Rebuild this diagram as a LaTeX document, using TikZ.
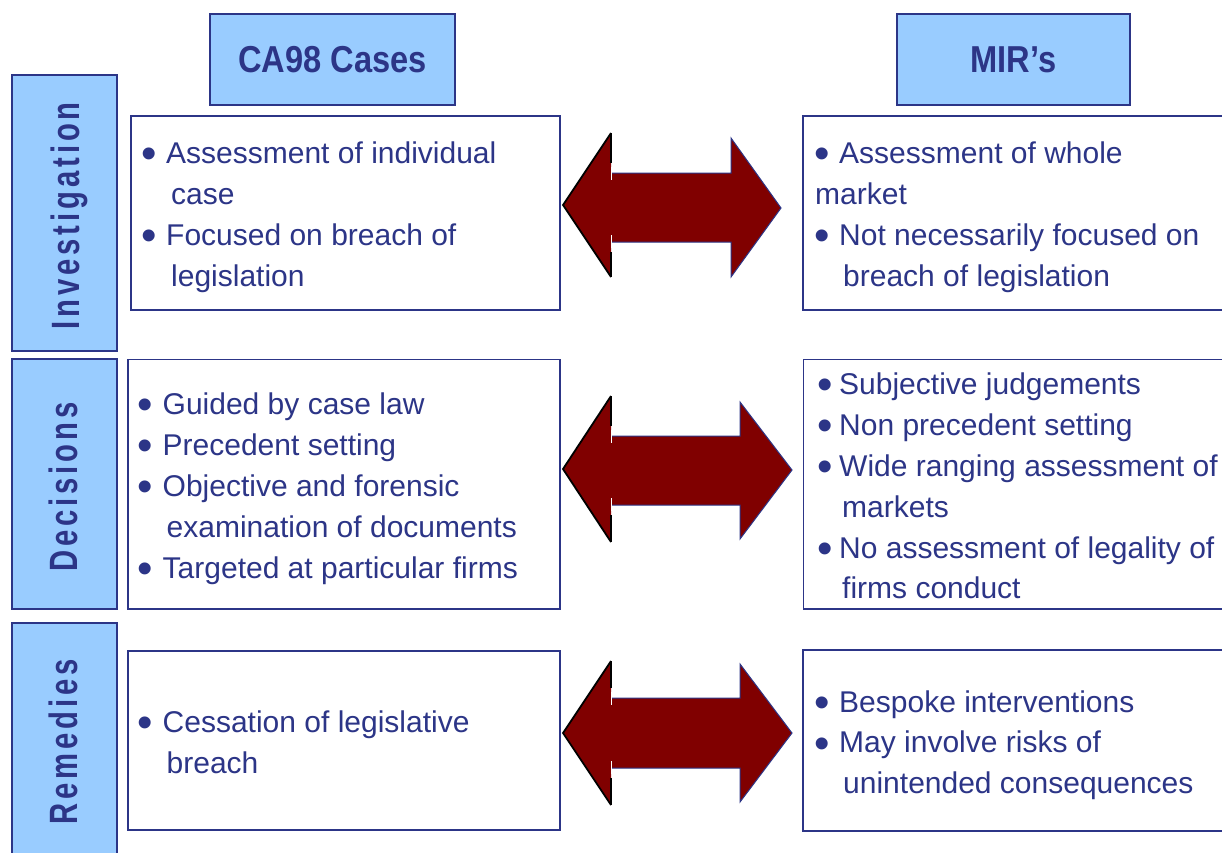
\documentclass[tikz,border=0pt]{standalone}
\usepackage{fontspec}
\setmainfont{Liberation Sans}
\newfontfamily\headfont[FakeStretch=0.87]{Liberation Sans}
\newfontfamily\sidefont[FakeStretch=0.74,LetterSpace=10]{Liberation Sans}
\definecolor{navy}{HTML}{2C3587}
\definecolor{lblue}{HTML}{99CCFF}
\definecolor{dred}{HTML}{800000}
\tikzset{
  hdrbox/.style={draw=navy, line width=1.5pt, fill=lblue, inner sep=0pt, text=navy,
    font=\headfont\bfseries\fontsize{37.5}{40}\selectfont},
  sidebox/.style={draw=navy, line width=1.8pt, fill=lblue, inner sep=0pt},
  sidelbl/.style={anchor=base, rotate=90, inner sep=0pt, text=navy,
    font=\sidefont\bfseries\fontsize{39.5}{40}\selectfont},
  contbox/.style={draw=navy, line width=1.5pt, fill=white, inner sep=0pt},
  txt/.style={anchor=base west, inner sep=0pt, text=navy, font=\fontsize{30}{36}\selectfont},
  bul/.style={anchor=base west, inner sep=0pt, text=navy, font=\fontsize{44}{44}\selectfont},
  arrfill/.style={fill=dred},
  arrline/.style={draw=navy, line width=1pt, line join=miter},
  arrblack/.style={draw=black, line width=1.8pt},
  arrwhite/.style={draw=white, line width=0.8pt}
}
\newcommand{\blockarrow}[9]{%
  \foreach \rt/\rb/\tx/\ty in {#9}{%
    \fill[arrfill] (#1,#2) -- (#3,#4) -- (#3,#6) -- (#8,#6) -- (#8,\rt) -- (\tx,\ty)
       -- (#8,\rb) -- (#8,#7) -- (#3,#7) -- (#3,#5) -- cycle;
    \draw[arrline] (#3,#6) -- (#8,#6) -- (#8,\rt) -- (\tx,\ty) -- (#8,\rb) -- (#8,#7) -- (#3,#7);
  }
  \draw[arrblack] (#3,#4) -- (#1,#2) -- (#3,#5);
  \draw[arrblack] (#3,#4) -- (#3,#6-10);
  \draw[arrblack] (#3,#5) -- (#3,#7+10);
  \draw[arrwhite] (#3,#6-6) -- (#3,#6+7);
  \draw[arrwhite] (#3,#7-7) -- (#3,#7+6);
}
\begin{document}
\begin{tikzpicture}[x=1pt,y=-1pt]
\path[use as bounding box, fill=white] (0,0) rectangle (1222,852);

% headers
\node[hdrbox, minimum width=245, minimum height=91] (hca) at (332.5,59.5) {CA98 Cases};
\node[hdrbox, minimum width=233, minimum height=91] (hmir) at (1013.5,59.5) {MIR’s};

% side boxes
\node[sidebox, minimum width=105, minimum height=276] (sinv) at (64.5,213) {};
\node[sidebox, minimum width=105, minimum height=249.5] (sdec) at (64.5,484) {};
\node[sidebox, minimum width=105, minimum height=247] (srem) at (64.5,746.5) {};
\node[sidelbl] (linv) at (79,216) {Investigation};
\node[sidelbl] (ldec) at (77.5,487) {Decisions};
\node[sidelbl] (lrem) at (77.5,742) {Remedies};

% content boxes
\node[contbox, minimum width=429, minimum height=194] (bl1) at (345.5,213) {};
\node[contbox, minimum width=432, minimum height=249.5] (bl2) at (344,484) {};
\node[contbox, minimum width=432, minimum height=179.3] (bl3) at (344,740.4) {};
\node[contbox, minimum width=437, minimum height=194] (br1) at (1021.5,213) {};
\node[contbox, minimum width=437, minimum height=249.5] (br2) at (1022,484) {};
\node[contbox, minimum width=437, minimum height=180.7] (br3) at (1021.5,740.4) {};

% arrows
\blockarrow{563}{205}{611}{133}{277}{173}{242}{731}{138/277/781/208}
\blockarrow{563}{469}{611}{396}{542}{436}{505}{740}{402/539/792/470}
\blockarrow{563}{733}{611}{661}{805}{698}{768}{740}{664/802/792/733}

% left box 1
\node[bul] (b11) at (141.5,168.5) {•};
\node[txt] (t11) at (166,163) {Assessment of individual};
\node[txt] (t12) at (171,204) {case};
\node[bul] (b12) at (141.5,250.5) {•};
\node[txt] (t13) at (166,245) {Focused on breach of};
\node[txt] (t14) at (171,286) {legislation};

% right box 1
\node[bul] (b21) at (814,168.5) {•};
\node[txt] (t21) at (839,163) {Assessment of whole};
\node[txt] (t22) at (815,204) {market};
\node[bul] (b22) at (814,250.5) {•};
\node[txt] (t23) at (839,245) {Not necessarily focused on};
\node[txt] (t24) at (843,286) {breach of legislation};

% left box 2
\node[bul] (b31) at (137,419.5) {•};
\node[txt] (t31) at (162.5,414) {Guided by case law};
\node[bul] (b32) at (137,460.5) {•};
\node[txt] (t32) at (162.5,455) {Precedent setting};
\node[bul] (b33) at (137,501.5) {•};
\node[txt] (t33) at (162.5,496) {Objective and forensic};
\node[txt] (t34) at (166.5,537) {examination of documents};
\node[bul] (b34) at (137,583.5) {•};
\node[txt] (t35) at (162.5,578) {Targeted at particular firms};

% right box 2
\node[bul] (b41) at (817,399.5) {•};
\node[txt] (t41) at (839,394) {Subjective judgements};
\node[bul] (b42) at (817,440.5) {•};
\node[txt] (t42) at (839,435) {Non precedent setting};
\node[bul] (b43) at (817,481.5) {•};
\node[txt] (t43) at (839,476) {Wide ranging assessment of};
\node[txt] (t44) at (842,517) {markets};
\node[bul] (b44) at (817,563.5) {•};
\node[txt] (t45) at (839,558) {No assessment of legality of};
\node[txt] (t46) at (842,598) {firms conduct};

% left box 3
\node[bul] (b51) at (137,737.5) {•};
\node[txt] (t51) at (162.5,732) {Cessation of legislative};
\node[txt] (t52) at (166.5,773) {breach};

% right box 3
\node[bul] (b61) at (814,717) {•};
\node[txt] (t61) at (839,712) {Bespoke interventions};
\node[bul] (b62) at (814,758.5) {•};
\node[txt] (t62) at (839,752.5) {May involve risks of};
\node[txt] (t63) at (843,793) {unintended consequences};
\end{tikzpicture}
\end{document}
